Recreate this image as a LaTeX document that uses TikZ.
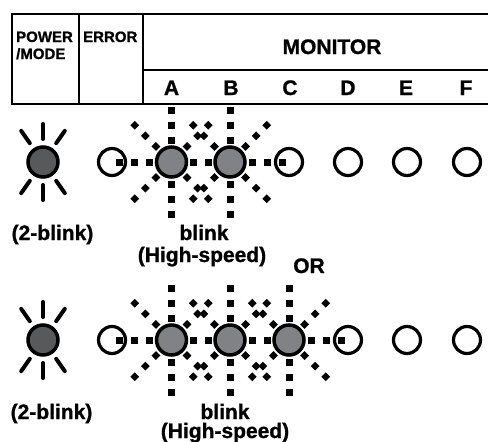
\documentclass[tikz,border=0pt]{standalone}
\usepackage{fontspec}
\setmainfont{Liberation Sans}
\newfontfamily\hvb{Liberation Sans}[FakeBold=1,BoldFeatures={FakeBold=1}]
\definecolor{ledgray}{RGB}{128,130,133}
\definecolor{pwrgray}{RGB}{88,89,91}
\newcommand\blinkrays[1]{%
  \foreach \ang in {0,90,180,270}{%
    \foreach \r in {22,37,52}{%
      \fill ($(#1)+(\ang:\r)$) +(-3.5,-3.5) rectangle +(3.5,3.5);}}%
  \foreach \ang in {45,135,225,315}{%
    \foreach \r in {22,37,52}{%
      \fill ($(#1)+(\ang:\r)$) +(0,-4.4) -- +(4.4,0) -- +(0,4.4) -- +(-4.4,0) -- cycle;}}}
\newcommand\powerrays[1]{%
  \foreach \ang in {55,90,125,235,270,305}{%
    \draw[pray] ($(#1)+(\ang:23)$) -- ($(#1)+(\ang:38)$);}}
\usetikzlibrary{calc}
\begin{document}
\begin{tikzpicture}[x=1pt,y=-1pt,
  tline/.style={line width=2.3pt},
  hdr/.style={font=\fontsize{15}{15}\hvb\bfseries, anchor=base west, inner sep=0pt},
  lbl/.style={font=\fontsize{21}{21}\hvb\bfseries, anchor=base, inner sep=0pt},
  ledon/.style={circle, draw=black, line width=3.5pt, fill=ledgray, minimum size=30pt, inner sep=0pt},
  ledpwr/.style={circle, draw=black, line width=3.5pt, fill=pwrgray, minimum size=30pt, inner sep=0pt},
  ledoff/.style={circle, draw=black, line width=3.2pt, minimum size=27pt, inner sep=0pt},
  pray/.style={line width=4pt, line cap=round}]
\useasboundingbox (0,0) rectangle (488,442);
% table
\draw[tline] (488,14) -- (12,14) -- (12,104) -- (488,104);
\draw[tline] (79,14) -- (79,104);
\draw[tline] (143,14) -- (143,104);
\draw[tline] (143,70) -- (488,70);
\node[hdr] (tpower) at (16,42) {POWER};
\node[hdr] (tmode) at (16,59) {/MODE};
\node[hdr] (terror) at (83,42) {ERROR};
\node[lbl] (tmonitor) at (332,54) {MONITOR};
\node[lbl] (tA) at (171.5,95) {A};
\node[lbl] (tB) at (231,95) {B};
\node[lbl] (tC) at (290,95) {C};
\node[lbl] (tD) at (348,95) {D};
\node[lbl] (tE) at (406,95) {E};
\node[lbl] (tF) at (466,95) {F};
% row coordinates
\foreach \row/\y in {1/162,2/340}{
  \coordinate (P\row) at (43,\y);
  \coordinate (R\row) at (112,\y);
  \coordinate (A\row) at (171.5,\y);
  \coordinate (B\row) at (230,\y);
  \coordinate (C\row) at (289,\y);
  \coordinate (D\row) at (348,\y);
  \coordinate (E\row) at (407,\y);
  \coordinate (F\row) at (467,\y);
}
% rays
\powerrays{P1}
\powerrays{P2}
\blinkrays{A1}
\blinkrays{B1}
\blinkrays{A2}
\blinkrays{B2}
\blinkrays{C2}
% row 1 LEDs
\node[ledpwr] (p1) at (P1) {};
\node[ledoff] (r1) at (R1) {};
\node[ledon] (a1) at (A1) {};
\node[ledon] (b1) at (B1) {};
\node[ledoff] (c1) at (C1) {};
\node[ledoff] (d1) at (D1) {};
\node[ledoff] (e1) at (E1) {};
\node[ledoff] (f1) at (F1) {};
% row 2 LEDs
\node[ledpwr] (p2) at (P2) {};
\node[ledoff] (r2) at (R2) {};
\node[ledon] (a2) at (A2) {};
\node[ledon] (b2) at (B2) {};
\node[ledon] (c2) at (C2) {};
\node[ledoff] (d2) at (D2) {};
\node[ledoff] (e2) at (E2) {};
\node[ledoff] (f2) at (F2) {};
% labels
\node[lbl] (l1a) at (52.5,240) {(2-blink)};
\node[lbl] (l1b) at (204,240) {blink};
\node[lbl] (l1c) at (202,262) {(High-speed)};
\node[lbl] (lor) at (309,273) {OR};
\node[lbl] (l2a) at (51.5,419) {(2-blink)};
\node[lbl] (l2b) at (225,419) {blink};
\node[lbl] (l2c) at (225,438) {(High-speed)};
\end{tikzpicture}
\end{document}
